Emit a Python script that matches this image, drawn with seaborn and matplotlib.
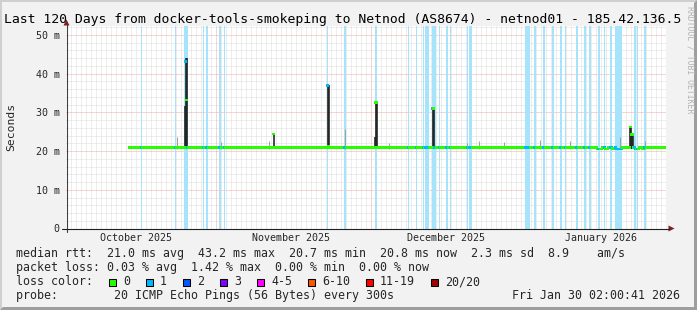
import numpy as np
import pandas as pd
import matplotlib
matplotlib.use("Agg")
import matplotlib.pyplot as plt
import seaborn as sns
from matplotlib.patches import Rectangle, Polygon

# ---------------- data ----------------
title = "Last 120 Days from docker-tools-smokeping to Netnod (AS8674) - netnod01 - 185.42.136.5"
graph_days = 120          # time axis length (days)
data_start_day = 12.6     # first consolidated row with data
row_days = 0.2            # consolidation step
baseline_ms = 20.9        # typical median rtt

month_labels = ["October 2025", "November 2025", "December 2025", "January 2026"]
month_label_days = [14, 45, 76, 107]
major_grid_days = [29.9, 60.9, 91.9]

y_ticks = [0, 10, 20, 30, 40, 50]
y_tick_labels = ["0", "10 m", "20 m", "30 m", "40 m", "50 m"]

# spikes: row day, median ms, smoke top ms, lost pings
spike_day = [23.6, 23.8, 24.0, 41.4, 52.2, 52.4, 61.6, 61.8, 62.0, 73.2, 73.4, 112.6, 112.8, 113.0, 113.2]
spike_median = [20.9, 43.2, 33.2, 24.4, 37.0, 21.3, 20.9, 32.6, 32.6, 31.0, 31.0, 20.9, 26.2, 24.3, 24.3]
spike_top = [31.6, 44.0, 44.0, 24.4, 37.2, 37.2, 23.7, 32.8, 32.8, 31.4, 31.4, 26.3, 26.3, 24.3, 24.3]
spike_loss = [0, 1, 0, 0, 1, 0, 0, 0, 0, 1, 0, 0, 0, 0, 0]

# small grey smoke bumps: row day, smoke top ms
bump_day = [22.0, 30.8, 40.4, 55.6, 64.6, 80.0, 82.6, 87.6, 94.6, 100.6, 110.6, 115.6]
bump_top = [23.6, 22.4, 22.5, 25.7, 22.0, 22.0, 22.5, 22.3, 22.8, 22.5, 23.7, 22.6]

# lower median periods in January
dip_start_day = [106.2, 107.8, 109.2, 110.0, 113.8, 115.2]
dip_end_day = [107.0, 108.2, 109.6, 111.0, 114.4, 115.4]
dip_ms = [20.5, 20.5, 20.6, 20.5, 20.5, 20.5]

# periods with packet loss (1/20): start day, length in days
loss_start_day = [14.96, 21.80, 23.70, 27.36, 27.94, 30.60, 31.56, 52.24, 55.70, 61.90,
                  68.36, 69.96, 71.40, 71.80, 72.10, 72.40, 73.30, 73.70, 74.56, 76.10,
                  76.80, 80.20, 80.56, 80.90, 91.80, 93.70, 95.50, 97.30, 98.90, 99.76,
                  102.10, 103.70, 104.70, 106.50, 107.60, 108.90, 109.80, 113.70, 114.16, 115.70]
loss_len_day = [0.2, 0.2, 0.6, 0.2, 0.4, 0.4, 0.2, 0.2, 0.2, 0.2,
                0.2, 0.2, 0.2, 0.2, 0.2, 0.2, 0.2, 0.2, 0.2, 0.2,
                0.2, 0.2, 0.2, 0.2, 1.0, 0.2, 0.2, 0.2, 0.2, 0.2,
                0.2, 0.2, 0.2, 0.2, 0.2, 0.2, 1.4, 0.2, 0.2, 0.2]

loss_labels = ["0", "1", "2", "3", "4-5", "6-10", "11-19", "20/20"]
loss_colors = ["#26ff00", "#00b8ff", "#0059ff", "#7e00ff", "#ff00ff", "#ff5500", "#ff0000", "#a00000"]

legend_lines = [
    "median rtt:  21.0 ms avg  43.2 ms max  20.7 ms min  20.8 ms now  2.3 ms sd  8.9    am/s",
    "packet loss: 0.03 % avg  1.42 % max  0.00 % min  0.00 % now",
    "loss color:",
    "probe:        20 ICMP Echo Pings (56 Bytes) every 300s",
]
date_text = "Fri Jan 30 02:00:41 2026"
credit_text = "RRDTOOL / TOBI OETIKER"

# ---------------- build table ----------------
rows = np.round(data_start_day + row_days * np.arange(int(round((graph_days - data_start_day) / row_days))), 2)
median = np.full(rows.shape, baseline_ms)
top = np.full(rows.shape, np.nan)
dark = np.zeros(rows.shape, bool)
loss = np.zeros(rows.shape, int)
for s, e, v in zip(dip_start_day, dip_end_day, dip_ms):
    median[(rows >= s - 1e-6) & (rows <= e + 1e-6)] = v
for s, l in zip(loss_start_day, loss_len_day):
    loss[(rows >= s - 0.11) & (rows < s + l - 0.09)] = 1
for d, t in zip(bump_day, bump_top):
    i = int(np.argmin(np.abs(rows - d)))
    top[i] = t
for d, m, t, lc in zip(spike_day, spike_median, spike_top, spike_loss):
    i = int(np.argmin(np.abs(rows - d)))
    median[i] = m
    top[i] = t
    dark[i] = True
    loss[i] = lc

df = pd.DataFrame({"day": rows + row_days / 2, "median": median, "top": top,
                   "dark": dark, "loss": loss})

# ---------------- figure ----------------
sns.set_style("white")
plt.rcParams["font.family"] = ["DejaVu Sans Mono"]

W, H = 697, 310
fig = plt.figure(figsize=(W / 100, H / 100), dpi=100)
fig.patch.set_facecolor("#f2f2f2")

PX0, PX1 = 66, 666
PY0, PY1 = 228.5, 25.5
PXM = 3.87  # pixels per ms
ymax = (PY0 - PY1) / PXM

ax = fig.add_axes([PX0 / W, 1 - PY0 / H, (PX1 - PX0) / W, (PY0 - PY1) / H])
ax.set_facecolor("white")
ax.set_xlim(0, graph_days)
ax.set_ylim(0, ymax)
for s in ax.spines.values():
    s.set_visible(False)

# grid (under the data)
grid_dash = (0, (1, 1))
minor_y = [v for v in np.arange(2, ymax, 2) if v % 10 != 0]
major_y = [10, 20, 30, 40, 50]
ax.hlines(minor_y, 0, graph_days, colors="#dcdcdc", lw=0.72, linestyles=grid_dash, zorder=0.5)
minor_x = [d for d in np.arange(major_grid_days[0] - 29, graph_days, 1.0) if min(abs(d - m) for m in major_grid_days) > 0.01]
ax.vlines(minor_x, 0, ymax, colors="#dcdcdc", lw=0.72, linestyles=grid_dash, zorder=0.5)
ax.hlines(major_y, 0, graph_days, colors="#eeaaaa", lw=0.72, linestyles=grid_dash, zorder=0.6)
ax.vlines(major_grid_days, 0, ymax, colors="#eeaaaa", lw=0.72, linestyles=grid_dash, zorder=0.6)

# loss bars (at least ~1.5 px wide so they stay visible)
for s, l in zip(loss_start_day, loss_len_day):
    ax.axvspan(s - 0.03, s + l + 0.03, color="#a6e4fb", lw=0, zorder=1)

# smoke
sm = df.dropna(subset=["top"])
for dk, col, w in [(False, "#a0a0a0", 0.75), (True, "#1e1e1e", 1.15)]:
    part = sm[sm["dark"] == dk]
    ax.vlines(part["day"], baseline_ms - 0.3, part["top"], colors=col, lw=w, zorder=2)

# median
sns.scatterplot(data=df, x="day", y="median", hue="loss",
                palette={0: loss_colors[0], 1: loss_colors[1]},
                marker="s", s=3.6, linewidth=0, edgecolor="none",
                legend=False, ax=ax, zorder=3)

ax.set_xlabel("")
ax.set_ylabel("")
ax.set_yticks(y_ticks, y_tick_labels)
ax.set_xticks(month_label_days, month_labels)
ax.tick_params(axis="y", length=2.9, width=0.72, direction="inout", color="#333333",
               pad=3.0, labelsize=7.2)
ax.tick_params(axis="x", length=0, pad=3.3, labelsize=7.2)

# ---------------- overlay in pixel coordinates ----------------
ov = fig.add_axes([0, 0, 1, 1], facecolor="none")
ov.set_xlim(0, W)
ov.set_ylim(H, 0)
ov.axis("off")
ov.set_zorder(10)

# 3d border
ov.add_patch(Polygon([(0, H), (2, H - 2), (2, 2), (W - 2, 2), (W, 0), (0, 0)],
                     closed=True, color="#cfcfcf", lw=0))
ov.add_patch(Polygon([(3, H - 3), (W - 3, H - 3), (W - 3, 3), (W, 0), (W, H), (0, H)],
                     closed=True, color="#9e9e9e", lw=0))

# axes lines and arrows
ov.plot([66.5, 66.5], [232, 24], color="#404040", lw=0.8)
ov.plot([62, 669], [228.5, 228.5], color="#202020", lw=0.8)
ov.add_patch(Polygon([(63.5, 25.5), (69.5, 25.5), (66.5, 19.5)], closed=True, color="#7f1f1f", lw=0))
ov.add_patch(Polygon([(668.5, 225.5), (668.5, 231.5), (674.5, 228.5)], closed=True, color="#7f1f1f", lw=0))

# texts
ov.text(4, 23.5, title, fontsize=9.45, va="baseline", ha="left", color="black")
ov.text(11, 127, "Seconds", fontsize=8.2, rotation=90, va="center", ha="center")
ov.text(690, 60, credit_text, fontsize=5.9, rotation=-90, va="center", ha="center", color="#b4b4b4")

base_y = [257.3, 271.3, 285.3, 299.3]
for s, y in zip(legend_lines, base_y):
    ov.text(16, y, s, fontsize=8.37, va="baseline", ha="left")
ov.text(680, 299.3, date_text, fontsize=8.37, va="baseline", ha="right")

bx = 108
for lab, col in zip(loss_labels, loss_colors):
    ov.add_patch(Rectangle((bx + 0.5, 278.5), 7, 7, facecolor=col, edgecolor="black", lw=0.75))
    ov.text(bx + 15, 285.3, lab, fontsize=8.37, va="baseline", ha="left")
    bx += 30 + 7 * len(lab)

fig.savefig("out.png", dpi=100, facecolor=fig.get_facecolor())
